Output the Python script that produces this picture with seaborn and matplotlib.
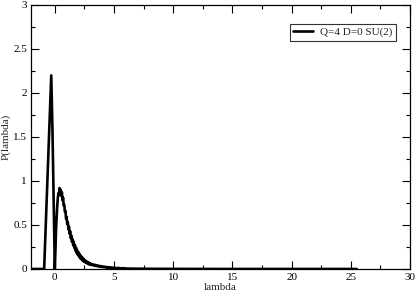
import seaborn as sns
import matplotlib.pyplot as plt
import pandas as pd

# values
lam_peak = [-2.0, -0.9, -0.6, -0.3, -0.2, 0.0, 0.05, 0.1, 0.15, 0.2, 0.25, 0.3,
            0.35, 0.4, 0.45, 0.5]
p_peak = [0.0, 0.0, 1.1, 2.2, 1.6, 0.0, 0.2, 0.42, 0.58, 0.70, 0.80, 0.86,
          0.84, 0.92, 0.86, 0.90]

lam_mid = [0.55, 0.6, 0.65, 0.7, 0.75, 0.8, 0.85, 0.9, 0.95, 1.0,
           1.05, 1.1, 1.15, 1.2, 1.25, 1.3, 1.35, 1.4, 1.45, 1.5,
           1.55, 1.6, 1.65, 1.7, 1.75, 1.8, 1.85, 1.9, 1.95, 2.0,
           2.05, 2.1, 2.15, 2.2, 2.25, 2.3, 2.35, 2.4, 2.45, 2.5,
           2.55, 2.6, 2.65, 2.7, 2.75, 2.8, 2.85, 2.9, 2.95, 3.0]
p_mid = [0.83, 0.87, 0.78, 0.81, 0.72, 0.73, 0.65, 0.66, 0.57, 0.59,
         0.51, 0.53, 0.45, 0.48, 0.40, 0.43, 0.35, 0.38, 0.31, 0.34,
         0.27, 0.31, 0.24, 0.27, 0.21, 0.24, 0.18, 0.21, 0.16, 0.19,
         0.14, 0.17, 0.12, 0.15, 0.11, 0.135, 0.095, 0.12, 0.085, 0.105,
         0.078, 0.095, 0.07, 0.085, 0.062, 0.078, 0.055, 0.07, 0.05, 0.064]

lam_tail = [3.1, 3.2, 3.3, 3.4, 3.5, 3.6, 3.7, 3.8, 3.9, 4.0,
            4.1, 4.2, 4.3, 4.4, 4.5, 4.6, 4.7, 4.8, 4.9, 5.0,
            5.2, 5.4, 5.6, 5.8, 6.0, 6.5, 7.0, 8.0, 10.0, 15.0, 20.0, 25.5]
p_tail = [0.044, 0.055, 0.038, 0.048, 0.032, 0.042, 0.027, 0.036, 0.023, 0.031,
          0.019, 0.027, 0.016, 0.023, 0.013, 0.020, 0.011, 0.017, 0.009, 0.014,
          0.009, 0.012, 0.006, 0.009, 0.005, 0.004, 0.003, 0.002, 0.001, 0.0, 0.0, 0.0]

df = pd.DataFrame({
    'lambda': lam_peak + lam_mid + lam_tail,
    'P': p_peak + p_mid + p_tail,
})
df['series'] = 'Q=4 D=0 SU(2)'

sns.set_style('ticks')
plt.rcParams['font.family'] = ['Liberation Serif', 'DejaVu Serif']
plt.rcParams['font.size'] = 8

fig = plt.figure(figsize=(4.15, 2.93), dpi=100)
ax = fig.add_axes([0.075, 0.082, 0.913, 0.901])

sns.lineplot(data=df, x='lambda', y='P', hue='series', palette=['black'],
             linewidth=1.9, sort=False, ax=ax)

ax.set_xlim(-2, 30)
ax.set_ylim(0, 3)
ax.set_xticks([0, 5, 10, 15, 20, 25, 30])
ax.set_xticks([2.5, 7.5, 12.5, 17.5, 22.5, 27.5], minor=True)
ax.set_yticks([0, 0.5, 1, 1.5, 2, 2.5, 3])
ax.set_yticklabels(['0', '0.5', '1', '1.5', '2', '2.5', '3'])
ax.set_yticks([0.25, 0.75, 1.25, 1.75, 2.25, 2.75], minor=True)
ax.tick_params(which='both', direction='in', top=True, right=True,
               labelsize=8, width=0.8, colors='black', pad=3)
ax.tick_params(which='major', length=6)
ax.tick_params(which='minor', length=3)
for s in ax.spines.values():
    s.set_linewidth(0.9)
    s.set_color('black')

ax.set_xlabel('lambda', fontsize=8, labelpad=0.5)
ax.set_ylabel('P(lambda)', fontsize=8, labelpad=1.5)

leg = ax.legend(loc='upper right', bbox_to_anchor=(0.962, 0.928), frameon=True,
                fancybox=False, fontsize=8, handlelength=1.8, borderpad=0.3,
                handletextpad=0.6, borderaxespad=0)
leg.get_frame().set_edgecolor('black')
leg.get_frame().set_linewidth(0.8)

fig.savefig('out.png', dpi=100)
